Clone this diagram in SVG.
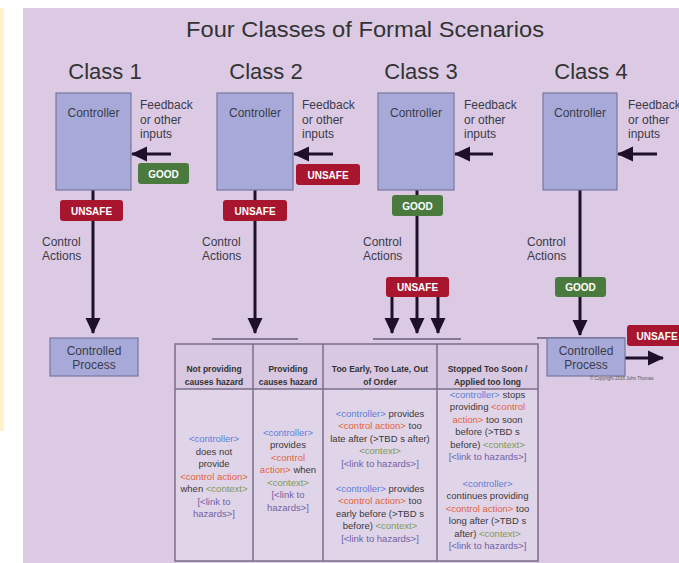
<svg xmlns="http://www.w3.org/2000/svg" width="679" height="563" viewBox="0 0 679 563">
  <defs>
    <marker id="head" markerUnits="userSpaceOnUse" viewBox="0 0 16 16" markerWidth="16" markerHeight="16" refX="15" refY="8" orient="auto">
      <path d="M0,0.5 L16,8 L0,15.5 z" fill="#1e1028"/>
    </marker>
    <style>
      .title { font-family: "Liberation Sans", Arial, sans-serif; font-size: 22px; fill: #333; text-anchor: middle; }
      .cls { font-family: "Liberation Sans", Arial, sans-serif; font-size: 22px; fill: #333; text-anchor: middle; }
      .box { fill: #a7aad8; stroke: #77779f; stroke-width: 1.2; }
      .lbl { font-family: "Liberation Sans", Arial, sans-serif; font-size: 12px; fill: #3a3a4a; }
      .mid { text-anchor: middle; }
      .wire { stroke: #1e1028; stroke-width: 3; fill: none; }
      .rule { stroke: #85789a; stroke-width: 2; }
      .good { fill: #4b7a3f; }
      .unsafe { fill: #a8152f; }
      .tag { font-family: "Liberation Sans", Arial, sans-serif; font-size: 10px; font-weight: bold; fill: #fff; text-anchor: middle; }
      .hd { fill: #d8c8e1; }
      .bd { fill: #e0d4e9; }
      .grid { stroke: #7a6e88; stroke-width: 1.5; fill: none; }
      .th { font-family: "Liberation Sans", Arial, sans-serif; font-size: 8.5px; font-weight: bold; fill: #333; text-anchor: middle; }
      .td { font-family: "Liberation Sans", Arial, sans-serif; font-size: 9.5px; fill: #3a3a3a; text-anchor: middle; }
      .c { fill: #5c7fd8; }
      .a { fill: #e0643e; }
      .x { fill: #7f9a55; }
      .k { fill: #7062a5; }
    </style>
  </defs>

  <!-- page background, side strip and slide panel -->
  <rect x="0" y="0" width="679" height="563" fill="#ffffff"/>
  <rect x="0" y="8" width="4" height="423" fill="#fff1cc"/>
  <rect x="23" y="8" width="656" height="555" fill="#dccae4"/>

  <text class="title" x="365" y="37" textLength="358" lengthAdjust="spacingAndGlyphs">Four Classes of Formal Scenarios</text>
  <text class="cls" x="105" y="79">Class 1</text>
  <text class="cls" x="266" y="79">Class 2</text>
  <text class="cls" x="421" y="79">Class 3</text>
  <text class="cls" x="591" y="79">Class 4</text>

  <!-- connectors -->
  <g id="connectors">
    <!-- feedback inputs -->
    <line class="wire" x1="171" y1="154" x2="132" y2="154" marker-end="url(#head)"/>
    <line class="wire" x1="333" y1="154" x2="294" y2="154" marker-end="url(#head)"/>
    <line class="wire" x1="493" y1="154" x2="455" y2="154" marker-end="url(#head)"/>
    <line class="wire" x1="657" y1="154" x2="618" y2="154" marker-end="url(#head)"/>
    <!-- control actions -->
    <line class="wire" x1="93" y1="190" x2="93" y2="333" marker-end="url(#head)"/>
    <line class="wire" x1="255" y1="190" x2="255" y2="333" marker-end="url(#head)"/>
    <line class="wire" x1="417" y1="190" x2="417" y2="278"/>
    <line class="wire" x1="392" y1="297" x2="392" y2="333" marker-end="url(#head)"/>
    <line class="wire" x1="417" y1="297" x2="417" y2="333" marker-end="url(#head)"/>
    <line class="wire" x1="438" y1="297" x2="438" y2="333" marker-end="url(#head)"/>
    <line class="wire" x1="580" y1="190" x2="580" y2="335" marker-end="url(#head)"/>
    <!-- class 4 process output -->
    <line class="wire" x1="625" y1="358" x2="663" y2="358" marker-end="url(#head)"/>
    <!-- rules above the table -->
    <line class="rule" x1="212" y1="339" x2="298" y2="339"/>
    <line class="rule" x1="373" y1="339" x2="461" y2="339"/>
    <line class="rule" x1="537" y1="338" x2="625" y2="338"/>
  </g>

  <!-- Class 1 -->
  <g id="class1-controller">
    <rect class="box" x="56" y="93" width="75" height="97"/>
    <text class="lbl mid" x="93.5" y="117">Controller</text>
  </g>
  <g id="class1-feedback">
    <text class="lbl" x="140" y="109">Feedback</text>
    <text class="lbl" x="140" y="124">or other</text>
    <text class="lbl" x="140" y="138">inputs</text>
    <rect class="good" x="138" y="163" width="51" height="21" rx="3"/>
    <text class="tag" x="163.5" y="177.5">GOOD</text>
  </g>
  <g id="class1-action">
    <rect class="unsafe" x="60" y="200" width="63" height="21" rx="3"/>
    <text class="tag" x="91.5" y="214.5">UNSAFE</text>
    <text class="lbl" x="42" y="246">Control</text>
    <text class="lbl" x="42" y="260">Actions</text>
  </g>
  <g id="class1-process">
    <rect class="box" x="50" y="338" width="88" height="38"/>
    <text class="lbl mid" x="94" y="355">Controlled</text>
    <text class="lbl mid" x="94" y="369">Process</text>
  </g>

  <!-- Class 2 -->
  <g id="class2-controller">
    <rect class="box" x="217" y="93" width="76" height="97"/>
    <text class="lbl mid" x="255" y="117">Controller</text>
  </g>
  <g id="class2-feedback">
    <text class="lbl" x="302" y="109">Feedback</text>
    <text class="lbl" x="302" y="124">or other</text>
    <text class="lbl" x="302" y="138">inputs</text>
    <rect class="unsafe" x="296" y="164" width="64" height="21" rx="3"/>
    <text class="tag" x="328" y="178.5">UNSAFE</text>
  </g>
  <g id="class2-action">
    <rect class="unsafe" x="223" y="200" width="64" height="21" rx="3"/>
    <text class="tag" x="255" y="214.5">UNSAFE</text>
    <text class="lbl" x="202" y="246">Control</text>
    <text class="lbl" x="202" y="260">Actions</text>
  </g>

  <!-- Class 3 -->
  <g id="class3-controller">
    <rect class="box" x="378" y="93" width="76" height="97"/>
    <text class="lbl mid" x="416" y="117">Controller</text>
  </g>
  <g id="class3-feedback">
    <text class="lbl" x="464" y="109">Feedback</text>
    <text class="lbl" x="464" y="124">or other</text>
    <text class="lbl" x="464" y="138">inputs</text>
  </g>
  <g id="class3-action">
    <rect class="good" x="392" y="195" width="51" height="21" rx="3"/>
    <text class="tag" x="417.5" y="209.5">GOOD</text>
    <text class="lbl" x="363" y="246">Control</text>
    <text class="lbl" x="363" y="260">Actions</text>
    <rect class="unsafe" x="386" y="277" width="63" height="20" rx="3"/>
    <text class="tag" x="417.5" y="291">UNSAFE</text>
  </g>

  <!-- Class 4 -->
  <g id="class4-controller">
    <rect class="box" x="543" y="93" width="74" height="97"/>
    <text class="lbl mid" x="580" y="117">Controller</text>
  </g>
  <g id="class4-feedback">
    <text class="lbl" x="628" y="109">Feedback</text>
    <text class="lbl" x="628" y="124">or other</text>
    <text class="lbl" x="628" y="138">inputs</text>
  </g>
  <g id="class4-action">
    <text class="lbl" x="527" y="246">Control</text>
    <text class="lbl" x="527" y="260">Actions</text>
    <rect class="good" x="555" y="277" width="51" height="20" rx="3"/>
    <text class="tag" x="580.5" y="291">GOOD</text>
  </g>
  <g id="class4-process">
    <rect class="box" x="547" y="338" width="78" height="38"/>
    <text class="lbl mid" x="586" y="355">Controlled</text>
    <text class="lbl mid" x="586" y="369">Process</text>
    <text x="590" y="380" font-family="Liberation Sans, Arial, sans-serif" font-size="4.5" fill="#555">© Copyright 2016 John Thomas</text>
  </g>
  <g id="class4-output">
    <rect class="unsafe" x="627" y="325" width="56" height="21" rx="3"/>
    <text class="tag" x="657" y="339.5">UNSAFE</text>
  </g>

  <!-- hazard table -->
  <g id="hazard-table">
    <rect class="bd" x="175" y="389" width="363" height="172"/>
    <rect class="hd" x="175" y="344" width="363" height="45"/>
    <rect class="grid" x="175" y="344" width="363" height="217"/>
    <line class="grid" x1="175" y1="389" x2="538" y2="389"/>
    <line class="grid" x1="253" y1="344" x2="253" y2="561"/>
    <line class="grid" x1="323" y1="344" x2="323" y2="561"/>
    <line class="grid" x1="437" y1="344" x2="437" y2="561"/>

    <text class="th" x="214" y="372">Not providing</text>
    <text class="th" x="214" y="385">causes hazard</text>
    <text class="th" x="288" y="372">Providing</text>
    <text class="th" x="288" y="385">causes hazard</text>
    <text class="th" x="380" y="372">Too Early, Too Late, Out</text>
    <text class="th" x="380" y="385">of Order</text>
    <text class="th" x="487.5" y="372">Stopped Too Soon /</text>
    <text class="th" x="487.5" y="385">Applied too long</text>

    <!-- not providing -->
    <text class="td c" x="214" y="442">&lt;controller&gt;</text>
    <text class="td" x="214" y="454.5">does not</text>
    <text class="td" x="214" y="467">provide</text>
    <text class="td a" x="214" y="479.5">&lt;control action&gt;</text>
    <text class="td" x="214" y="492">when <tspan class="x">&lt;context&gt;</tspan></text>
    <text class="td k" x="214" y="504.5">[&lt;link to</text>
    <text class="td k" x="214" y="517">hazards&gt;]</text>

    <!-- providing -->
    <text class="td c" x="288" y="435.5">&lt;controller&gt;</text>
    <text class="td" x="288" y="448">provides</text>
    <text class="td a" x="288" y="460.5">&lt;control</text>
    <text class="td" x="288" y="473"><tspan class="a">action&gt;</tspan> when</text>
    <text class="td x" x="288" y="485.5">&lt;context&gt;</text>
    <text class="td k" x="288" y="498">[&lt;link to</text>
    <text class="td k" x="288" y="510.5">hazards&gt;]</text>

    <!-- too early / too late -->
    <text class="td" x="380" y="416.5"><tspan class="c">&lt;controller&gt;</tspan> provides</text>
    <text class="td" x="380" y="429"><tspan class="a">&lt;control action&gt;</tspan> too</text>
    <text class="td" x="380" y="441.5">late after (&gt;TBD s after)</text>
    <text class="td x" x="380" y="454">&lt;context&gt;</text>
    <text class="td k" x="380" y="466.5">[&lt;link to hazards&gt;]</text>
    <text class="td" x="380" y="491.5"><tspan class="c">&lt;controller&gt;</tspan> provides</text>
    <text class="td" x="380" y="504"><tspan class="a">&lt;control action&gt;</tspan> too</text>
    <text class="td" x="380" y="516.5">early before (&gt;TBD s</text>
    <text class="td" x="380" y="529">before) <tspan class="x">&lt;context&gt;</tspan></text>
    <text class="td k" x="380" y="541.5">[&lt;link to hazards&gt;]</text>

    <!-- stopped too soon / applied too long -->
    <text class="td" x="487.5" y="397.5"><tspan class="c">&lt;controller&gt;</tspan> stops</text>
    <text class="td" x="487.5" y="410">providing <tspan class="a">&lt;control</tspan></text>
    <text class="td" x="487.5" y="422.5"><tspan class="a">action&gt;</tspan> too soon</text>
    <text class="td" x="487.5" y="435">before (&gt;TBD s</text>
    <text class="td" x="487.5" y="447.5">before) <tspan class="x">&lt;context&gt;</tspan></text>
    <text class="td k" x="487.5" y="460">[&lt;link to hazards&gt;]</text>
    <text class="td c" x="487.5" y="486.5">&lt;controller&gt;</text>
    <text class="td" x="487.5" y="499">continues providing</text>
    <text class="td" x="487.5" y="511.5"><tspan class="a">&lt;control action&gt;</tspan> too</text>
    <text class="td" x="487.5" y="524">long after (&gt;TBD s</text>
    <text class="td" x="487.5" y="536.5">after) <tspan class="x">&lt;context&gt;</tspan></text>
    <text class="td k" x="487.5" y="549">[&lt;link to hazards&gt;]</text>
  </g>
</svg>
